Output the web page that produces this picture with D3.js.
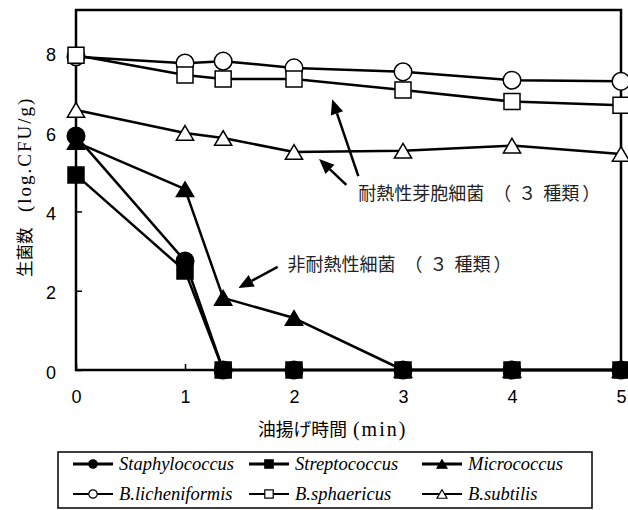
<!DOCTYPE html>
<html>
<head>
<meta charset="utf-8">
<script src="https://cdn.jsdelivr.net/npm/d3@7/dist/d3.min.js"></script>
<style>
  html, body { margin: 0; padding: 0; background: #fff; }
  svg { display: block; }
</style>
</head>
<body>
<svg id="chart" width="628" height="510"></svg>
<script>
// Frying time (min) at each sampling point
const times = [0, 1, 1.35, 2, 3, 4, 5];

// Viable counts, log CFU/g
const staphylococcus = [5.9, 2.75, 0, 0, 0, 0, 0];
const streptococcus  = [4.92, 2.5, 0, 0, 0, 0, 0];
const micrococcus    = [5.75, 4.56, 1.82, 1.31, 0, 0, 0];
const bLicheniformis = [7.9, 7.74, 7.79, 7.62, 7.52, 7.31, 7.28];
const bSphaericus    = [7.94, 7.44, 7.34, 7.34, 7.06, 6.77, 6.68];
const bSubtilis      = [6.56, 5.98, 5.85, 5.5, 5.53, 5.66, 5.45];

const xTicks = [0, 1, 2, 3, 4, 5];
const yTicks = [0, 2, 4, 6, 8];

const seriesNames = ["Staphylococcus", "Streptococcus", "Micrococcus",
                     "B.licheniformis", "B.sphaericus", "B.subtilis"];
const seriesValues = [staphylococcus, streptococcus, micrococcus,
                      bLicheniformis, bSphaericus, bSubtilis];
const seriesShapes = ["circle", "square", "triangle", "circle", "square", "triangle"];
const seriesFilled = [true, true, true, false, false, false];

const svg = d3.select("#chart");
const W = 628, H = 510;
const m = { left: 76, right: 7, top: 10, bottom: 140 };

const x = d3.scaleLinear().domain([0, 5]).range([m.left, W - m.right]);
const y = d3.scaleLinear().domain([0, 9.08]).range([H - m.bottom, m.top]);

const sans = "'Liberation Sans', Arial, sans-serif";
const serif = "'Liberation Serif', 'Times New Roman', serif";
const cjk = "'Noto Sans CJK JP', sans-serif";

// Axes with inward ticks
const gx = svg.append("g")
  .attr("transform", `translate(0,${y(0)})`)
  .call(d3.axisBottom(x).tickValues(xTicks).tickSize(-6).tickPadding(20).tickFormat(d3.format("d")));
const gy = svg.append("g")
  .attr("transform", `translate(${x(0)},0)`)
  .call(d3.axisLeft(y).tickValues(yTicks).tickSize(-6).tickPadding(20).tickFormat(d3.format("d")));
[gx, gy].forEach(g => {
  g.select(".domain").remove();
  g.selectAll(".tick line").attr("stroke", "#000").attr("stroke-width", 1.5);
  g.selectAll(".tick text").attr("fill", "#000").style("font-family", sans).style("font-size", "18px");
});
gy.selectAll(".tick text").attr("dy", "0.45em");

// Plot frame
svg.append("rect")
  .attr("x", x(0)).attr("y", y.range()[1])
  .attr("width", x(5) - x(0)).attr("height", y(0) - y.range()[1])
  .attr("fill", "none").attr("stroke", "#000").attr("stroke-width", 2.5);

// Marker shapes
function shapePath(kind, s) {
  if (kind === "circle") {
    return `M${s},0A${s},${s} 0 1,1 ${-s},0A${s},${s} 0 1,1 ${s},0Z`;
  }
  if (kind === "square") {
    return `M${-s},${-s}H${s}V${s}H${-s}Z`;
  }
  const h = s * 0.85;
  return `M0,${-h}L${s},${h}L${-s},${h}Z`;
}
const markerSize = { circle: 8.8, square: 8, triangle: 8.6 };

const line = d3.line().x(d => x(d[0])).y(d => y(d[1]));

// Lines first, then markers on top
seriesValues.forEach(vals => {
  const pts = times.map((t, j) => [t, vals[j]]);
  svg.append("path")
    .datum(pts)
    .attr("d", line)
    .attr("fill", "none")
    .attr("stroke", "#000")
    .attr("stroke-width", 2.5)
    .attr("stroke-linejoin", "round");
});
[2, 1, 0, 5, 3, 4].forEach(i => {
  const pts = times.map((t, j) => [t, seriesValues[i][j]]);
  svg.append("g").selectAll("path")
    .data(pts)
    .join("path")
    .attr("transform", d => `translate(${x(d[0])},${y(d[1])})`)
    .attr("d", shapePath(seriesShapes[i], markerSize[seriesShapes[i]]))
    .attr("fill", seriesFilled[i] ? "#000" : "#fff")
    .attr("stroke", "#000")
    .attr("stroke-width", 1.5);
});

// Annotation arrows (data coordinates)
const arrows = [
  { from: [2.59, 4.89], to: [2.35, 6.83] },
  { from: [2.48, 4.67], to: [2.23, 5.32] },
  { from: [1.85, 2.60], to: [1.49, 2.07] }
];
arrows.forEach(a => {
  const x1 = x(a.from[0]), y1 = y(a.from[1]);
  const x2 = x(a.to[0]), y2 = y(a.to[1]);
  const ang = Math.atan2(y2 - y1, x2 - x1);
  const L = 15, hw = 6.5;
  const bx = x2 - L * Math.cos(ang), by = y2 - L * Math.sin(ang);
  svg.append("line")
    .attr("x1", x1).attr("y1", y1).attr("x2", bx).attr("y2", by)
    .attr("stroke", "#000").attr("stroke-width", 2.5);
  svg.append("path")
    .attr("d", `M${x2},${y2}L${bx + hw * Math.sin(ang)},${by - hw * Math.cos(ang)}L${bx - hw * Math.sin(ang)},${by + hw * Math.cos(ang)}Z`)
    .attr("fill", "#000");
});

// Group labels: name, then "（３ 種類）"
const notes = [
  { at: [2.59, 4.46], name: "耐熱性芽胞細菌" },
  { at: [1.94, 2.65], name: "非耐熱性細菌" }
];
notes.forEach(n => {
  const t = svg.append("text")
    .attr("x", x(n.at[0])).attr("y", y(n.at[1]))
    .attr("dy", "0.36em")
    .style("font-family", cjk).style("font-size", "18px")
    .attr("fill", "#222");
  t.append("tspan").text(n.name);
  t.append("tspan").attr("dx", 9).text("（");
  t.append("tspan").attr("dx", 7).text("３");
  t.append("tspan").attr("dx", 7).text("種類");
  t.append("tspan").attr("dx", 3).text("）");
});

// Axis titles
const xt = svg.append("text")
  .attr("x", 258).attr("y", 430).attr("dy", "0.36em")
  .attr("fill", "#000");
xt.append("tspan").style("font-family", cjk).style("font-size", "17.8px").text("油揚げ時間");
xt.append("tspan").attr("dx", 6).style("font-family", serif).style("font-size", "20px")
  .style("letter-spacing", "2px").text("(min)");

const yt = svg.append("text")
  .attr("transform", "translate(25,277) rotate(-90)")
  .attr("dy", "0.36em")
  .attr("fill", "#000");
yt.append("tspan").style("font-family", cjk).style("font-size", "16.5px").text("生菌数");
yt.append("tspan").attr("dx", 15.5).style("font-family", serif).style("font-size", "19px")
  .style("letter-spacing", "2px").text("(log.CFU/g)");

// Legend
const legend = svg.append("g");
legend.append("rect")
  .attr("x", 58).attr("y", 452).attr("width", 534).attr("height", 56)
  .attr("fill", "#fff").attr("stroke", "#000").attr("stroke-width", 1.5);
const colX = [73, 249, 422];
const rowY = [464, 494];
seriesNames.forEach((name, i) => {
  const cx = colX[i % 3], cy = rowY[Math.floor(i / 3)];
  const g = legend.append("g").attr("transform", `translate(${cx},${cy})`);
  g.append("line").attr("x1", 0).attr("x2", 40).attr("y1", 0).attr("y2", 0)
    .attr("stroke", "#000").attr("stroke-width", seriesFilled[i] ? 3 : 2);
  g.append("path")
    .attr("transform", "translate(20,0)")
    .attr("d", shapePath(seriesShapes[i], seriesShapes[i] === "triangle" ? 5 : 4.2))
    .attr("fill", seriesFilled[i] ? "#000" : "#fff")
    .attr("stroke", "#000").attr("stroke-width", 1.2);
  g.append("text")
    .attr("x", 46).attr("dy", "0.33em")
    .style("font-family", serif).style("font-style", "italic").style("font-size", "18.5px")
    .attr("fill", "#000")
    .text(name);
});
</script>
</body>
</html>
